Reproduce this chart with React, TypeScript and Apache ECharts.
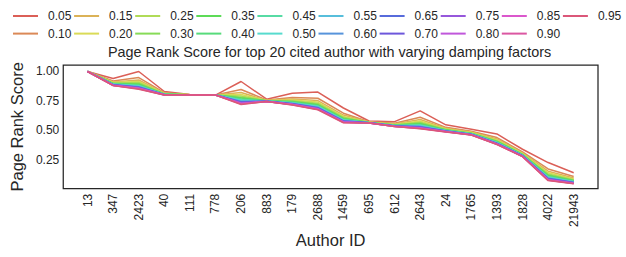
import React, { useEffect, useRef } from "react";
import * as echarts from "echarts";

const authorIds = ["13", "347", "2423", "40", "111", "778", "206", "883", "179", "2688", "1459", "695", "612", "2643", "24", "1765", "1393", "1828", "4022", "21943"];

const dampingFactors = ["0.05", "0.10", "0.15", "0.20", "0.25", "0.30", "0.35", "0.40", "0.45", "0.50", "0.55", "0.60", "0.65", "0.70", "0.75", "0.80", "0.85", "0.90", "0.95"];

const palette = ["#db5f57", "#db8957", "#dbb257", "#dadb57", "#b0db57", "#87db57", "#5ddb57", "#57db7b", "#57dba4", "#57dbce", "#57bedb", "#5794db", "#576bdb", "#6d57db", "#9657db", "#c057db", "#db57cc", "#db57a2", "#db5779"];

const d005 = [1, 0.94, 1.0, 0.83, 0.805, 0.8, 0.915, 0.765, 0.815, 0.825, 0.69, 0.58, 0.574, 0.666, 0.547, 0.51, 0.47, 0.34, 0.227, 0.141];
const d010 = [1, 0.919, 0.948, 0.82, 0.803, 0.8, 0.847, 0.758, 0.78, 0.773, 0.646, 0.574, 0.56, 0.612, 0.526, 0.493, 0.439, 0.318, 0.173, 0.108];
const d015 = [1, 0.911, 0.928, 0.816, 0.803, 0.8, 0.821, 0.755, 0.767, 0.753, 0.63, 0.571, 0.554, 0.593, 0.518, 0.486, 0.427, 0.31, 0.154, 0.096];
const d020 = [1, 0.906, 0.915, 0.813, 0.802, 0.8, 0.804, 0.754, 0.758, 0.74, 0.619, 0.57, 0.551, 0.579, 0.513, 0.482, 0.419, 0.304, 0.14, 0.087];
const d025 = [1, 0.902, 0.906, 0.811, 0.802, 0.8, 0.792, 0.752, 0.752, 0.731, 0.611, 0.569, 0.548, 0.57, 0.509, 0.479, 0.413, 0.3, 0.131, 0.082];
const d030 = [1, 0.899, 0.898, 0.81, 0.802, 0.8, 0.782, 0.751, 0.747, 0.723, 0.605, 0.568, 0.546, 0.562, 0.506, 0.476, 0.409, 0.297, 0.123, 0.077];
const d035 = [1, 0.897, 0.892, 0.808, 0.801, 0.8, 0.775, 0.751, 0.743, 0.717, 0.6, 0.567, 0.544, 0.556, 0.504, 0.474, 0.405, 0.295, 0.117, 0.073];
const d040 = [1, 0.894, 0.886, 0.807, 0.801, 0.8, 0.767, 0.75, 0.739, 0.711, 0.595, 0.566, 0.543, 0.55, 0.501, 0.472, 0.402, 0.292, 0.111, 0.07];
const d045 = [1, 0.893, 0.882, 0.806, 0.801, 0.8, 0.761, 0.749, 0.736, 0.707, 0.591, 0.566, 0.542, 0.545, 0.5, 0.471, 0.399, 0.29, 0.106, 0.067];
const d050 = [1, 0.891, 0.877, 0.805, 0.801, 0.8, 0.755, 0.749, 0.733, 0.702, 0.588, 0.565, 0.54, 0.541, 0.498, 0.469, 0.396, 0.288, 0.102, 0.064];
const d055 = [1, 0.889, 0.873, 0.805, 0.801, 0.8, 0.75, 0.748, 0.731, 0.698, 0.584, 0.565, 0.539, 0.537, 0.496, 0.468, 0.394, 0.287, 0.098, 0.062];
const d060 = [1, 0.888, 0.87, 0.804, 0.801, 0.8, 0.745, 0.748, 0.728, 0.695, 0.581, 0.564, 0.538, 0.533, 0.495, 0.467, 0.392, 0.285, 0.094, 0.059];
const d065 = [1, 0.887, 0.867, 0.803, 0.801, 0.8, 0.741, 0.747, 0.726, 0.692, 0.579, 0.564, 0.538, 0.53, 0.494, 0.466, 0.39, 0.284, 0.091, 0.057];
const d070 = [1, 0.885, 0.864, 0.803, 0.8, 0.8, 0.738, 0.747, 0.724, 0.689, 0.576, 0.564, 0.537, 0.527, 0.492, 0.465, 0.388, 0.283, 0.088, 0.055];
const d075 = [1, 0.884, 0.861, 0.802, 0.8, 0.8, 0.734, 0.746, 0.722, 0.686, 0.574, 0.563, 0.536, 0.524, 0.491, 0.464, 0.386, 0.281, 0.085, 0.054];
const d080 = [1, 0.883, 0.858, 0.802, 0.8, 0.8, 0.73, 0.746, 0.72, 0.683, 0.571, 0.563, 0.535, 0.521, 0.49, 0.463, 0.385, 0.28, 0.082, 0.052];
const d085 = [1, 0.882, 0.855, 0.801, 0.8, 0.8, 0.727, 0.746, 0.719, 0.68, 0.569, 0.563, 0.534, 0.518, 0.489, 0.462, 0.383, 0.279, 0.079, 0.05];
const d090 = [1, 0.881, 0.853, 0.801, 0.8, 0.8, 0.724, 0.745, 0.717, 0.678, 0.568, 0.562, 0.534, 0.516, 0.488, 0.461, 0.382, 0.278, 0.077, 0.049];
const d095 = [1, 0.88, 0.85, 0.8, 0.8, 0.8, 0.72, 0.745, 0.715, 0.675, 0.565, 0.562, 0.533, 0.513, 0.487, 0.46, 0.38, 0.277, 0.074, 0.047];

const seriesValues = [d005, d010, d015, d020, d025, d030, d035, d040, d045, d050, d055, d060, d065, d070, d075, d080, d085, d090, d095];

const yTicks = [0.25, 0.5, 0.75, 1.0];

const FONT = "'Liberation Sans', Arial, Helvetica, sans-serif";
const TEXT = "#262626";

export default function App() {
  const ref = useRef<HTMLDivElement>(null);
  useEffect(() => {
    if (!ref.current) return;
    const chart = echarts.init(ref.current, null, { renderer: "svg" });

    const legends: any[] = [];
    for (let c = 0; c < 10; c++) {
      const names = [dampingFactors[2 * c], dampingFactors[2 * c + 1]].filter(Boolean);
      legends.push({
        orient: "vertical",
        left: 13 + c * 61.1,
        top: 9,
        padding: 0,
        itemWidth: 25,
        itemHeight: 2,
        itemGap: 3.6,
        icon: "rect",
        data: names,
        textStyle: { fontFamily: FONT, fontSize: 12, color: TEXT, lineHeight: 14, padding: [0, 0, 0, 5] },
      });
    }

    const option: any = {
      animation: false,
      backgroundColor: "#ffffff",
      title: {
        text: "Page Rank Score for top 20 cited author with varying damping factors",
        left: 108,
        top: 45,
        padding: 0,
        textStyle: { fontFamily: FONT, fontSize: 14.4, fontWeight: "normal", color: TEXT },
      },
      legend: legends,
      grid: {
        left: 62,
        right: 28,
        top: 65,
        bottom: 59,
        show: true,
        borderColor: TEXT,
        borderWidth: 1.25,
        backgroundColor: "transparent",
      },
      xAxis: {
        type: "value",
        min: -0.95,
        max: 19.95,
        name: "Author ID",
        nameLocation: "middle",
        nameGap: 37,
        nameTextStyle: { fontFamily: FONT, fontSize: 16.5, color: TEXT },
        axisLine: { show: false },
        axisTick: { show: false },
        splitLine: { show: false },
        axisLabel: {
          customValues: authorIds.map((_, i) => i),
          formatter: (v: number) => authorIds[Math.round(v)] ?? "",
          rotate: 90,
          margin: 5,
          fontFamily: FONT,
          fontSize: 12,
          color: TEXT,
        },
      },
      yAxis: {
        type: "value",
        min: 0.005,
        max: 1.055,
        name: "Page Rank Score",
        nameLocation: "middle",
        nameGap: 34,
        nameTextStyle: { fontFamily: FONT, fontSize: 16.5, color: TEXT },
        axisLine: { show: false },
        axisTick: { show: false },
        splitLine: { show: false },
        axisLabel: {
          customValues: yTicks,
          formatter: (v: number) => v.toFixed(2),
          margin: 4,
          fontFamily: FONT,
          fontSize: 12,
          color: TEXT,
        },
      },
      series: seriesValues.map((vals, s) => ({
        name: dampingFactors[s],
        type: "line",
        symbol: "none",
        color: palette[s],
        lineStyle: { width: 1.5, color: palette[s] },
        data: vals.map((v, i) => [i, v]),
      })),
    };
    chart.setOption(option);
    return () => chart.dispose();
  }, []);
  return <div ref={ref} style={{ position: "absolute", left: 0, top: 0, width: 626, height: 257 }} />;
}
